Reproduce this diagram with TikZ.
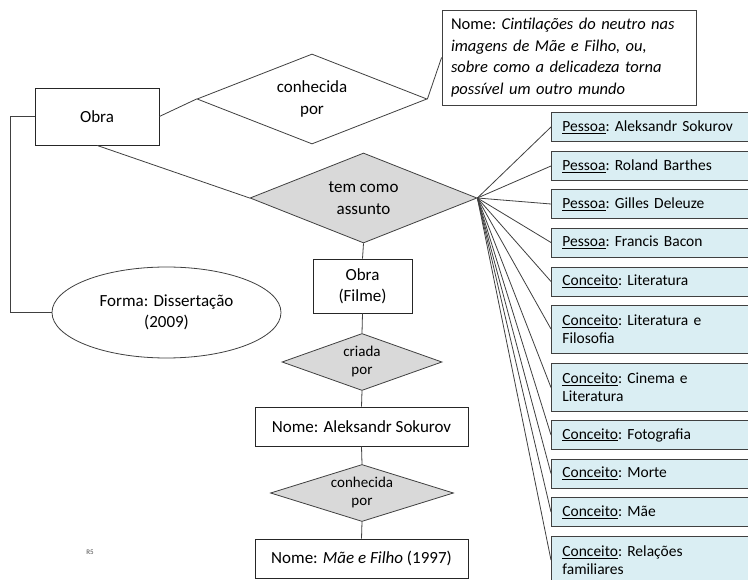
\documentclass[tikz,border=0pt]{standalone}
\usepackage{fontspec}
\setmainfont{Carlito}
\usetikzlibrary{shapes.geometric}
\definecolor{linegray}{HTML}{404040}
\definecolor{diagray}{HTML}{D9D9D9}
\definecolor{paleblue}{HTML}{DAEEF3}
\newcommand{\ulabel}[1]{\underline{#1}}
\tikzset{
  conn/.style={draw=linegray, line width=0.8pt},
  entity/.style={draw=black!85, line width=0.8pt, fill=white, inner sep=0pt,
    align=center, font=\fontsize{17}{21}\selectfont},
  relw/.style={diamond, shape aspect=3, draw=linegray, line width=0.8pt, fill=white,
    inner sep=0pt, align=center, font=\fontsize{17}{22}\selectfont},
  relg/.style={relw, fill=diagray},
  relsmall/.style={relg, font=\fontsize{15}{18}\selectfont},
  subj/.style={draw=linegray, line width=0.8pt, fill=paleblue, anchor=west,
    minimum width=191pt, text width=175pt, inner xsep=11pt, inner ysep=0pt,
    align=left, font=\fontsize{15.5}{18}\selectfont\frenchspacing},
  single/.style={subj, minimum height=29pt},
  double/.style={subj, minimum height=48pt},
}
\begin{document}
\begin{tikzpicture}[x=1pt, y=-1pt]
\useasboundingbox (0,0) rectangle (748,580);
\clip (0,0) rectangle (748,580);
\fill[white] (0,0) rectangle (748,580);

% entities and relationships
\node[entity, minimum width=124pt, minimum height=57pt] (obra) at (97,116.5) {Obra};
\node[relw, minimum width=230pt, minimum height=90pt] (conh) at (312,99) {conhecida\\por};
\node[draw=linegray, line width=0.8pt, fill=white, inner sep=0pt,
      minimum width=254pt, minimum height=95pt, text width=236pt, align=left,
      font=\fontsize{16.5}{21.5}\selectfont\frenchspacing] (titulo) at (569,57.5)
  {Nome: \textit{Cintilações do neutro nas}\\
   \textit{imagens de Mãe e Filho, ou,}\\
   \textit{sobre como a delicadeza torna}\\
   \textit{possível um outro mundo}};
\node[relg, minimum width=227pt, minimum height=90pt] (tem) at (363.5,198) {tem como\\assunto};
\node[ellipse, draw=linegray, line width=0.8pt, fill=white, inner sep=0pt,
      minimum width=229pt, minimum height=91pt, align=center,
      font=\fontsize{17}{21}\selectfont] (forma) at (166.5,312.5) {Forma: Dissertação\\(2009)};
\node[entity, minimum width=99pt, minimum height=54pt] (filme) at (362.5,286) {Obra\\(Filme)};
\node[relsmall, minimum width=160pt, minimum height=57pt] (criada) at (362,362) {criada\\por};
\node[entity, minimum width=213pt, minimum height=39pt] (sokurov) at (361.5,426.5) {Nome: Aleksandr Sokurov};
\node[relsmall, minimum width=183pt, minimum height=57pt] (conh2) at (362,493) {conhecida\\por};
\node[entity, minimum width=213pt, minimum height=39pt] (mae) at (361.5,558.5) {Nome: \textit{Mãe e Filho} (1997)};
\node[font=\fontsize{7}{8}\selectfont, text=black!70] (r5) at (90,552) {R5};

% subjects
\node[single] (s1) at (551,127) {\ulabel{Pessoa}: Aleksandr Sokurov};
\node[single] (s2) at (551,166) {\ulabel{Pessoa}: Roland Barthes};
\node[single] (s3) at (551,204) {\ulabel{Pessoa}: Gilles Deleuze};
\node[single] (s4) at (551,242.5) {\ulabel{Pessoa}: Francis Bacon};
\node[single] (s5) at (551,281.5) {\ulabel{Conceito}: Literatura};
\node[double] (s6) at (551,329) {\ulabel{Conceito}: Literatura e\\Filosofia};
\node[double] (s7) at (551,387.5) {\ulabel{Conceito}: Cinema e\\Literatura};
\node[single] (s8) at (551,435) {\ulabel{Conceito}: Fotografia};
\node[single] (s9) at (551,473.5) {\ulabel{Conceito}: Morte};
\node[single] (s10) at (551,512) {\ulabel{Conceito}: Mãe};
\node[double] (s11) at (551,560) {\ulabel{Conceito}: Relações\\familiares};

% connectors
\draw[conn] (obra.east) -- (conh.west);
\draw[conn] (conh.east) -- (titulo.west);
\draw[conn] (obra.south) -- (tem.west);
\draw[conn] (obra.west) -- ++(-24,0) |- (forma.west);
\foreach \s in {s1,s2,s3,s4,s5,s6,s7,s8,s9,s10,s11}
  \draw[conn] (tem.east) -- (\s.west);
\draw[conn] (tem.south) -- (filme.north);
\draw[conn] (filme.south) -- (criada.north);
\draw[conn] (criada.south) -- (sokurov.north);
\draw[conn] (sokurov.south) -- (conh2.north);
\draw[conn] (conh2.south) -- (mae.north);
\end{tikzpicture}
\end{document}
